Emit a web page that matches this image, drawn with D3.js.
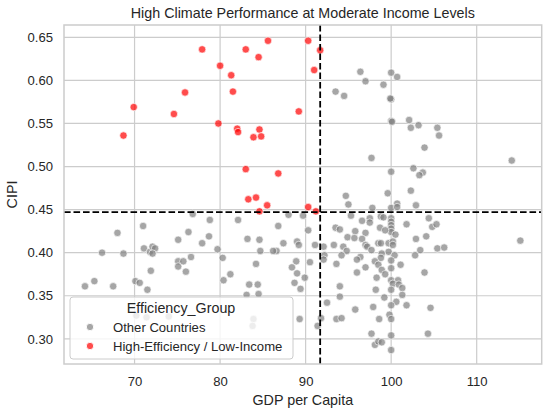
<!DOCTYPE html>
<html>
<head>
<meta charset="utf-8">
<script src="https://cdn.jsdelivr.net/npm/d3@7"></script>
<style>
  body { margin: 0; background: #fff; }
  svg { display: block; font-family: "Liberation Sans", Arial, sans-serif; }
</style>
</head>
<body>
<svg id="chart" width="550" height="414"></svg>
<script>
// values
const otherGDP = [
  96.4, 100.0, 100.7, 97.0, 99.1, 93.5, 94.5, 100.0, 99.9, 100.0, 100.1, 102.1, 102.3, 103.2, 105.4, 105.6,
  103.9, 97.7, 114.1, 100.0, 102.6, 103.7, 103.3, 94.7, 99.6, 102.3, 95.0, 100.7, 102.9, 97.8, 100.0, 100.7,
  88.0, 89.7, 95.3, 96.6, 97.5, 97.5, 98.8, 99.1, 100.0, 100.0, 100.0, 100.0, 100.0, 101.8, 104.4, 104.8,
  105.3, 86.8, 90.3, 93.5, 94.0, 95.8, 97.0, 98.7, 99.3, 100.5, 94.9, 95.7, 96.6, 102.9, 104.1, 97.0,
  97.2, 98.5, 98.8, 99.7, 100.2, 100.2, 87.4, 89.0, 89.2, 91.1, 92.1, 93.3, 94.4, 94.8, 97.7, 99.7,
  105.4, 106.2, 115.1, 103.4, 102.8, 86.6, 92.2, 92.1, 94.2, 96.4, 96.0, 98.9, 98.8, 100.4, 98.1, 88.9,
  90.5, 88.4, 93.6, 98.5, 100.0, 100.0, 101.1, 89.0, 89.9, 96.0, 97.0, 98.9, 99.3, 103.9, 98.3, 100.0,
  100.8, 100.2, 100.9, 101.3, 100.0, 88.7, 89.4, 94.0, 94.0, 98.2, 101.3, 99.2, 100.6, 100.0, 101.8, 92.5,
  95.8, 97.9, 104.6, 99.8, 100.0, 89.3, 91.8, 93.6, 94.2, 98.6, 91.4, 97.7, 100.0, 104.3, 98.1, 98.5,
  98.9, 100.0,
  64.2, 65.3, 66.2, 67.5, 68.0, 68.7, 70.1, 70.6, 71.0, 71.1, 71.5, 71.8, 71.9, 72.1, 72.4, 72.1,
  75.1, 75.1, 75.1, 75.7, 76.0, 76.3, 76.6, 76.8, 77.9, 78.7, 78.8, 79.7, 80.3, 80.4, 81.2, 82.1,
  83.2, 83.4, 83.1, 84.2, 84.4, 84.5, 84.6, 84.7, 86.2, 70.2, 71.4, 74.0, 83.9, 83.8
];
const otherCIPI = [
  0.610, 0.609, 0.604, 0.599, 0.595, 0.587, 0.582, 0.578, 0.579, 0.553, 0.552, 0.554, 0.545, 0.548, 0.545, 0.536,
  0.522, 0.510, 0.507, 0.494, 0.498, 0.493, 0.490, 0.466, 0.469, 0.472, 0.456, 0.457, 0.455, 0.452, 0.452, 0.453,
  0.444, 0.443, 0.443, 0.437, 0.440, 0.435, 0.442, 0.441, 0.440, 0.436, 0.432, 0.428, 0.424, 0.433, 0.440, 0.430,
  0.433, 0.431, 0.426, 0.429, 0.427, 0.425, 0.423, 0.429, 0.426, 0.421, 0.418, 0.417, 0.416, 0.416, 0.419, 0.409,
  0.407, 0.411, 0.411, 0.411, 0.413, 0.409, 0.411, 0.413, 0.409, 0.409, 0.407, 0.409, 0.407, 0.402, 0.403, 0.401,
  0.405, 0.406, 0.414, 0.403, 0.397, 0.402, 0.397, 0.392, 0.397, 0.395, 0.392, 0.399, 0.394, 0.397, 0.390, 0.390,
  0.389, 0.383, 0.387, 0.386, 0.391, 0.382, 0.386, 0.376, 0.371, 0.377, 0.383, 0.380, 0.375, 0.377, 0.371, 0.368,
  0.368, 0.364, 0.363, 0.359, 0.357, 0.365, 0.358, 0.361, 0.349, 0.357, 0.351, 0.348, 0.343, 0.339, 0.339, 0.342,
  0.334, 0.337, 0.336, 0.328, 0.323, 0.323, 0.324, 0.323, 0.324, 0.323, 0.315, 0.306, 0.304, 0.306, 0.293, 0.297,
  0.296, 0.287,
  0.361, 0.367, 0.400, 0.361, 0.423, 0.399, 0.367, 0.365, 0.431, 0.405, 0.357, 0.401, 0.379, 0.407, 0.405, 0.399,
  0.415, 0.390, 0.384, 0.390, 0.378, 0.424, 0.395, 0.445, 0.411, 0.419, 0.438, 0.404, 0.394, 0.368, 0.375, 0.438,
  0.416, 0.363, 0.351, 0.387, 0.363, 0.352, 0.415, 0.402, 0.402, 0.327, 0.325, 0.326, 0.323, 0.315
];
const redGDP = [
  77.9, 80.0, 83.0, 85.6, 84.5, 81.3, 81.5, 75.9, 69.9, 74.6, 68.7, 79.8, 82.0, 82.1, 84.6, 83.9,
  84.8, 83.0, 83.3, 84.2, 85.5, 84.6, 86.8, 90.3, 91.7, 91.0, 89.2, 90.3, 91.2
];
const redCIPI = [
  0.636, 0.617, 0.636, 0.646, 0.627, 0.606, 0.587, 0.586, 0.569, 0.561, 0.536, 0.550, 0.544, 0.540, 0.543, 0.534,
  0.535, 0.497, 0.462, 0.464, 0.455, 0.448, 0.492, 0.646, 0.635, 0.612, 0.564, 0.453, 0.448
];
const gdpThreshold = 91.7;
const cipiThreshold = 0.447;
const xTicks = [70, 80, 90, 100, 110];
const yTicks = [0.30, 0.35, 0.40, 0.45, 0.50, 0.55, 0.60, 0.65];
const groups = ["Other Countries", "High-Efficiency / Low-Income"];

const margin = {top: 25, right: 8.3, bottom: 50, left: 64};
const width = 550, height = 414;
const textColor = "#262626", gridColor = "#cccccc";

const svg = d3.select("#chart");

let x = d3.scaleLinear()
    .domain([61.75, 117.6])
    .range([margin.left, width - margin.right]);

let y = d3.scaleLinear()
    .domain([0.2708, 0.6643])
    .range([height - margin.bottom, margin.top]);

let color = d3.scaleOrdinal()
    .domain(groups)
    .range(["#808080", "#ff0000"]);

// grid
svg.append("g")
    .selectAll("line")
    .data(xTicks)
    .join("line")
    .attr("x1", d => x(d)).attr("x2", d => x(d))
    .attr("y1", margin.top).attr("y2", height - margin.bottom)
    .attr("stroke", gridColor).attr("stroke-width", 1.2);

svg.append("g")
    .selectAll("line")
    .data(yTicks)
    .join("line")
    .attr("x1", margin.left).attr("x2", width - margin.right)
    .attr("y1", d => y(d)).attr("y2", d => y(d))
    .attr("stroke", gridColor).attr("stroke-width", 1.2);

// axes (labels only, no tick marks)
let xAxis = g => g
    .attr("transform", `translate(0,${height - margin.bottom})`)
    .call(d3.axisBottom(x).tickValues(xTicks).tickSize(0).tickPadding(13))
    .call(g => g.select(".domain").remove())
    .call(g => g.selectAll("text").attr("fill", textColor).style("font-size", "13.1px")
        .style("font-family", "'Liberation Sans', Arial, sans-serif"));

let yAxis = g => g
    .attr("transform", `translate(${margin.left},0)`)
    .call(d3.axisLeft(y).tickValues(yTicks).tickFormat(d3.format(".2f")).tickSize(0).tickPadding(11))
    .call(g => g.select(".domain").remove())
    .call(g => g.selectAll("text").attr("fill", textColor).style("font-size", "13.1px")
        .style("font-family", "'Liberation Sans', Arial, sans-serif"));

svg.append("g").call(xAxis);
svg.append("g").call(yAxis);

// points
const others = otherGDP.map((g, i) => ({gdp: g, cipi: otherCIPI[i], group: groups[0]}));
const reds = redGDP.map((g, i) => ({gdp: g, cipi: redCIPI[i], group: groups[1]}));

svg.append("g")
    .selectAll("circle")
    .data(others.concat(reds))
    .join("circle")
    .attr("cx", d => x(d.gdp))
    .attr("cy", d => y(d.cipi))
    .attr("r", 3.7)
    .attr("fill", d => color(d.group))
    .attr("fill-opacity", 0.7)
    .attr("stroke", "#fff")
    .attr("stroke-opacity", 0.7)
    .attr("stroke-width", 0.9);

// threshold lines
svg.append("line")
    .attr("x1", margin.left).attr("x2", width - margin.right)
    .attr("y1", y(cipiThreshold)).attr("y2", y(cipiThreshold))
    .attr("stroke", "#000").attr("stroke-width", 1.8).attr("stroke-dasharray", "6.6,2.9");

svg.append("line")
    .attr("x1", x(gdpThreshold)).attr("x2", x(gdpThreshold))
    .attr("y1", margin.top).attr("y2", height - margin.bottom)
    .attr("stroke", "#000").attr("stroke-width", 1.8).attr("stroke-dasharray", "6.6,2.9");

// frame
svg.append("rect")
    .attr("x", margin.left).attr("y", margin.top)
    .attr("width", width - margin.left - margin.right)
    .attr("height", height - margin.top - margin.bottom)
    .attr("fill", "none").attr("stroke", gridColor).attr("stroke-width", 1.5);

// title and axis labels
svg.append("text")
    .attr("x", (margin.left + width - margin.right) / 2).attr("y", 18)
    .attr("text-anchor", "middle").attr("fill", textColor).style("font-size", "14.3px")
    .text("High Climate Performance at Moderate Income Levels");

svg.append("text")
    .attr("x", (margin.left + width - margin.right) / 2).attr("y", 405)
    .attr("text-anchor", "middle").attr("fill", textColor).style("font-size", "14.3px")
    .text("GDP per Capita");

svg.append("text")
    .attr("transform", `translate(17,${(margin.top + height - margin.bottom) / 2}) rotate(-90)`)
    .attr("text-anchor", "middle").attr("fill", textColor).style("font-size", "14.3px")
    .text("CIPI");

// legend
const legend = svg.append("g").attr("transform", "translate(70,297)");
legend.append("rect")
    .attr("width", 223).attr("height", 62).attr("rx", 3)
    .attr("fill", "#fff").attr("fill-opacity", 0.8)
    .attr("stroke", gridColor).attr("stroke-width", 1);
legend.append("text")
    .attr("x", 111).attr("y", 15.5)
    .attr("text-anchor", "middle").attr("fill", textColor).style("font-size", "14.3px")
    .text("Efficiency_Group");

const items = legend.selectAll("g.item")
    .data(groups)
    .join("g")
    .attr("class", "item")
    .attr("transform", (d, i) => `translate(0,${30 + i * 19})`);
items.append("circle")
    .attr("cx", 20).attr("cy", 0).attr("r", 3.7)
    .attr("fill", d => color(d)).attr("fill-opacity", 0.7)
    .attr("stroke", "#fff").attr("stroke-width", 0.9);
items.append("text")
    .attr("x", 43).attr("y", 4.5)
    .attr("fill", textColor).style("font-size", "13.1px")
    .text(d => d);
</script>
</body>
</html>
